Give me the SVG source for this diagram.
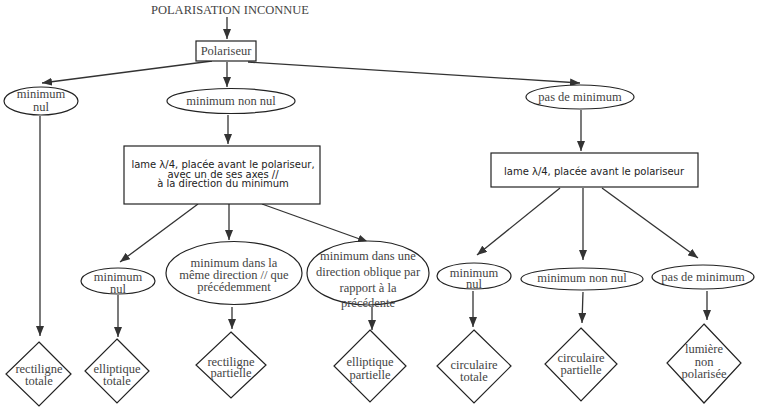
<svg xmlns="http://www.w3.org/2000/svg" width="760" height="410" viewBox="0 0 760 410">
<defs>
<marker id="ah" markerUnits="userSpaceOnUse" markerWidth="11" markerHeight="8" refX="10" refY="4" orient="auto">
<path d="M0,0 L10,4 L0,8 z" fill="#333"/>
</marker>
<style>
.s{font-family:"Liberation Serif","Times New Roman",serif;font-size:12.5px;fill:#444;text-anchor:middle}
.b{font-family:"DejaVu Sans",Verdana,sans-serif;font-size:10px;fill:#222;text-anchor:middle}
.n{fill:#fff;stroke:#222;stroke-width:1.2}
.c line{stroke:#333;stroke-width:1.3;marker-end:url(#ah)}
</style>
</defs>
<rect width="760" height="410" fill="#fff"/>
<g id="title"><text class="s" x="230" y="14">POLARISATION INCONNUE</text></g>
<g class="c" id="connectors">
<line x1="227" y1="17" x2="227" y2="39"/>
<line x1="212" y1="61" x2="42" y2="83"/>
<line x1="227" y1="62" x2="227" y2="87"/>
<line x1="248" y1="62" x2="580" y2="83"/>
<line x1="40" y1="116" x2="40" y2="336"/>
<line x1="228" y1="115" x2="228" y2="144"/>
<line x1="581" y1="110" x2="581" y2="151"/>
<line x1="198" y1="204" x2="120" y2="262"/>
<line x1="229" y1="204" x2="229" y2="240"/>
<line x1="262" y1="204" x2="368" y2="242"/>
<line x1="118" y1="295" x2="118" y2="337"/>
<line x1="232" y1="307" x2="232" y2="329"/>
<line x1="372" y1="307" x2="372" y2="330"/>
<line x1="560" y1="188" x2="477" y2="255"/>
<line x1="583" y1="188" x2="583" y2="260"/>
<line x1="602" y1="188" x2="698" y2="258"/>
<line x1="473" y1="291" x2="473" y2="327"/>
<line x1="583" y1="292" x2="582" y2="323"/>
<line x1="707" y1="291" x2="707" y2="320"/>
</g>
<g id="polariseur"><rect class="n" x="196" y="41" width="60" height="20"/><text class="s" x="226" y="55">Polariseur</text></g>
<g id="minnul1"><ellipse class="n" cx="41" cy="101" rx="37" ry="14"/><text class="s" x="41" y="98">minimum</text><text class="s" x="41" y="111">nul</text></g>
<g id="minnonnul1"><ellipse class="n" cx="231" cy="101" rx="64" ry="12.5"/><text class="s" x="231" y="105">minimum non nul</text></g>
<g id="pasdemin1"><ellipse class="n" cx="580" cy="97" rx="54" ry="12"/><text class="s" x="580" y="101">pas de minimum</text></g>
<g id="box1"><rect class="n" x="124" y="146" width="196" height="58"/>
<text class="b" x="223" y="168">lame  λ/4, placée avant le polariseur,</text>
<text class="b" x="223" y="177.5">avec un de ses axes //</text>
<text class="b" x="223" y="187">à la direction du minimum</text></g>
<g id="box2"><rect class="n" x="491" y="153" width="207" height="34"/>
<text class="b" x="594" y="175">lame  λ/4, placée avant le polariseur</text></g>
<g id="minnul2"><ellipse class="n" cx="118" cy="281" rx="37" ry="13"/><text class="s" x="118" y="281">minimum</text><text class="s" x="118" y="293">nul</text></g>
<g id="memedir"><ellipse class="n" cx="234" cy="273" rx="68" ry="31.5"/>
<text class="s" x="234" y="267">minimum dans la</text><text class="s" x="234" y="279">même direction // que</text><text class="s" x="234" y="291">précédemment</text></g>
<g id="oblique"><ellipse class="n" cx="368" cy="273" rx="61" ry="32"/>
<text class="s" x="368" y="260">minimum dans une</text><text class="s" x="368" y="276">direction oblique par</text><text class="s" x="368" y="292">rapport à la</text><text class="s" x="368" y="307">précédente</text></g>
<g id="minnul3"><ellipse class="n" cx="474" cy="276" rx="37" ry="13"/><text class="s" x="474" y="277">minimum</text><text class="s" x="474" y="288">nul</text></g>
<g id="minnonnul2"><ellipse class="n" cx="582" cy="279" rx="61" ry="11"/><text class="s" x="582" y="282">minimum non nul</text></g>
<g id="pasdemin2"><ellipse class="n" cx="703" cy="277" rx="51" ry="12"/><text class="s" x="703" y="281">pas de minimum</text></g>
<g id="rectot"><path class="n" d="M39,342 L71,374 L39,406 L6,374 z"/><text class="s" x="39" y="373">rectiligne</text><text class="s" x="39" y="385">totale</text></g>
<g id="elltot"><path class="n" d="M117,339 L149,371 L117,403 L85,371 z"/><text class="s" x="117" y="373">elliptique</text><text class="s" x="117" y="385">totale</text></g>
<g id="recpart"><path class="n" d="M231,332 L266,365 L231,398 L196,365 z"/><text class="s" x="231" y="366">rectiligne</text><text class="s" x="231" y="377">partielle</text></g>
<g id="ellpart"><path class="n" d="M370,330 L406,366 L370,402 L334,366 z"/><text class="s" x="370" y="366">elliptique</text><text class="s" x="370" y="379">partielle</text></g>
<g id="circtot"><path class="n" d="M474,330 L511,366 L474,403 L437,366 z"/><text class="s" x="474" y="369">circulaire</text><text class="s" x="474" y="381">totale</text></g>
<g id="circpart"><path class="n" d="M581,328 L617,364 L581,401 L545,364 z"/><text class="s" x="581" y="362">circulaire</text><text class="s" x="581" y="374">partielle</text></g>
<g id="nonpol"><path class="n" d="M704,324 L741,363 L704,403 L667,363 z"/><text class="s" x="704" y="353">lumière</text><text class="s" x="704" y="366">non</text><text class="s" x="704" y="378">polarisée</text></g>
</svg>
